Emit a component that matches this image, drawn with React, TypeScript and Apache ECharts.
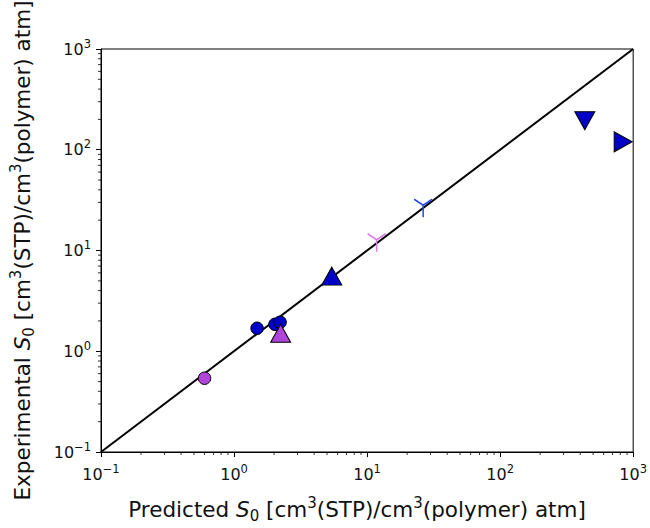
import React, { useEffect, useRef } from 'react';
import * as echarts from 'echarts';

// Data
const predicted = [0.6, 1.49, 2.03, 2.22, 2.24, 5.43, 11.8, 26.4, 433, 841];
const experimental = [0.54, 1.69, 1.85, 1.94, 1.51, 5.57, 12.8, 28.1, 194, 120];
const markerKinds = ['circle', 'circle', 'circle', 'circle', 'up', 'up', 'tri', 'tri', 'down', 'right'];
const markerColors = ['#b044d8', '#0000c8', '#0000c8', '#0000c8', '#b044d8', '#0000c8', '#dc7ae6', '#2448e8', '#0000c8', '#0000c8'];

const parityLine = [0.1, 1000];
const tickValues = [0.1, 1, 10, 100, 1000];
const tickExponents = ['−1', '0', '1', '2', '3'];
const minorMultipliers = [2, 3, 4, 5, 6, 7, 8, 9];
const decades = [0.1, 1, 10, 100];

const FONT = 'DejaVu Sans';
const TXT = '#111';
const Y_PATH = 'path://M0,0L0,12M0,0L-10.4,-6M0,0L10.4,-6M0,-12L0,-12';

const NAME_FS = 21.5;
const SUP_FS = 15;
const TICK_FS = 16;
const TICK_SUP_FS = 11.5;

function fmt(v: number) {
  const i = tickValues.findIndex((t) => Math.abs(Math.log10(t) - Math.log10(v)) < 1e-6);
  return i >= 0 ? '{b|10}{s|' + tickExponents[i] + '}' : '';
}

const nameRich = {
  n: { fontSize: NAME_FS, color: TXT, fontFamily: FONT, lineHeight: 28 },
  i: { fontSize: NAME_FS, fontStyle: 'italic', color: TXT, fontFamily: FONT, lineHeight: 28 },
  sub: { fontSize: SUP_FS, color: TXT, fontFamily: FONT, verticalAlign: 'bottom', lineHeight: 17 },
  sup: { fontSize: SUP_FS, color: TXT, fontFamily: FONT, verticalAlign: 'top', lineHeight: 17 },
};

function richName(prefix: string) {
  return '{n|' + prefix + ' }{i|S}{sub|0}{n| [cm}{sup|3}{n|(STP)/cm}{sup|3}{n|(polymer) atm]}';
}

export default function App() {
  const ref = useRef<HTMLDivElement>(null);
  useEffect(() => {
    if (!ref.current) return;
    const chart = echarts.init(ref.current, undefined, { renderer: 'svg' });
    const minor: number[] = [];
    decades.forEach((d) => minorMultipliers.forEach((m) => minor.push(+(d * m).toPrecision(3))));

    const points = predicted.map((x, i) => {
      const kind = markerKinds[i];
      const c = markerColors[i];
      const base: any = { value: [x, experimental[i]] };
      if (kind === 'circle') {
        return { ...base, symbol: 'circle', symbolSize: 12.5, itemStyle: { color: c, opacity: 1, borderColor: '#000', borderWidth: 1 } };
      }
      if (kind === 'tri') {
        return { ...base, symbol: Y_PATH, symbolSize: [20.8, 24], symbolKeepAspect: true, itemStyle: { color: c, opacity: 1, borderColor: c, borderWidth: 1.6 } };
      }
      const rot = kind === 'up' ? 0 : kind === 'down' ? 180 : -90;
      return { ...base, symbol: 'triangle', symbolSize: [20, 18], symbolRotate: rot, itemStyle: { color: c, opacity: 1, borderColor: '#000', borderWidth: 1 } };
    });

    const axisCommon = {
      type: 'log',
      logBase: 10,
      min: 0.1,
      max: 1000,
      nameLocation: 'middle',
      axisLine: { show: true, lineStyle: { color: '#000', width: 1 } },
      axisTick: { show: true, length: 5, lineStyle: { color: '#000', width: 1 } },
      axisLabel: {
        color: TXT,
        fontFamily: FONT,
        formatter: fmt,
        rich: {
          b: { fontSize: TICK_FS, color: TXT, fontFamily: FONT, lineHeight: 23 },
          s: { fontSize: TICK_SUP_FS, color: TXT, fontFamily: FONT, verticalAlign: 'top', lineHeight: 14 },
        },
      },
      splitLine: { show: false },
      minorTick: { show: false },
    };

    chart.setOption({
      animation: false,
      textStyle: { fontFamily: FONT },
      grid: { left: 101, top: 49, width: 535, height: 410, show: true, borderColor: '#000', borderWidth: 1, backgroundColor: '#fff' },
      xAxis: {
        ...axisCommon,
        axisLabel: { ...axisCommon.axisLabel, margin: 11 },
        name: richName('Predicted'),
        nameGap: 43,
        nameTextStyle: { rich: nameRich, padding: [0, 20, 0, 0] },
      },
      yAxis: {
        ...axisCommon,
        axisLabel: { ...axisCommon.axisLabel, margin: 10 },
        name: richName('Experimental'),
        nameGap: 65,
        nameTextStyle: { rich: nameRich },
      },
      series: [
        {
          type: 'line',
          data: [[parityLine[0], parityLine[0]], [parityLine[1], parityLine[1]]],
          showSymbol: false,
          symbol: 'none',
          lineStyle: { color: '#000', width: 2 },
          silent: true,
          z: 2,
        },
        {
          type: 'scatter',
          data: points,
          z: 3,
        },
        {
          type: 'custom',
          clip: false,
          silent: true,
          data: minor.map((v) => [v, 1]),
          renderItem: (params: any, api: any) => {
            const p = api.coord([api.value(0), 0.1]);
            return { type: 'line', shape: { x1: p[0], y1: p[1], x2: p[0], y2: p[1] + 3 }, style: { stroke: '#000', lineWidth: 0.8 } };
          },
          z: 1,
        },
        {
          type: 'custom',
          clip: false,
          silent: true,
          data: minor.map((v) => [1, v]),
          renderItem: (params: any, api: any) => {
            const p = api.coord([0.1, api.value(1)]);
            return { type: 'line', shape: { x1: p[0] - 3, y1: p[1], x2: p[0], y2: p[1] }, style: { stroke: '#000', lineWidth: 0.8 } };
          },
          z: 1,
        },
      ],
    });
    return () => chart.dispose();
  }, []);
  return <div ref={ref} style={{ position: 'absolute', left: 0, top: 0, width: 650, height: 528, background: '#fff' }} />;
}
